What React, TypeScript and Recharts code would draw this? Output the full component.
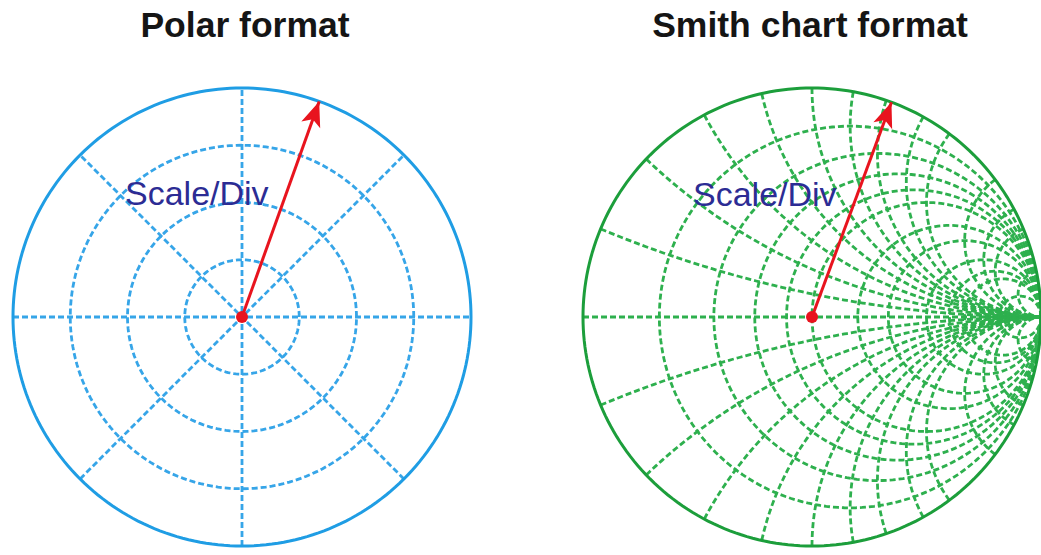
import { ComposedChart, Line, XAxis, YAxis } from 'recharts'

// grid values
const polarRings = [0.25, 0.5, 0.75]
const polarSpokes = [0, 45, 90, 135]
const smithResistances = [0.2, 0.4, 0.6, 0.8, 1, 1.5, 2, 3, 4, 5, 10]
const smithReactances = [0.2, 0.4, 0.6, 0.8, 1, 1.2, 1.4, 1.7, 2, 3, 4, 5, 10]

// the measured vector on each display (angle in degrees, magnitude)
const polarVector = { angle: 70.3, mag: 1 }
const smithVector = { angle: 69.7, mag: 1 }

const titles = ['Polar format', 'Smith chart format']
const vectorLabel = 'Scale/Div'

const RED = '#e8141e'

type Pt = { x: number; y: number }

const circle = (cx: number, cy: number, r: number, n = 180): Pt[] =>
  Array.from({ length: n + 1 }, (_, i) => {
    const t = (2 * Math.PI * i) / n
    return { x: cx + r * Math.cos(t), y: cy + r * Math.sin(t) }
  })

const diameter = (deg: number): Pt[] => {
  const a = (deg * Math.PI) / 180
  return [
    { x: -Math.cos(a), y: -Math.sin(a) },
    { x: Math.cos(a), y: Math.sin(a) },
  ]
}

// reflection coefficient for z = r + jx
const gamma = (r: number, x: number): Pt => {
  const d = (r + 1) ** 2 + x * x
  return { x: (r * r - 1 + x * x) / d, y: (2 * x) / d }
}

const reactanceArc = (x: number, n = 140): Pt[] => {
  const pts = Array.from({ length: n }, (_, k) => gamma(Math.tan((Math.PI / 2) * (k / n)), x))
  pts.push({ x: 1, y: 0 })
  return pts
}

const vectorPts = (v: { angle: number; mag: number }): Pt[] => {
  const a = (v.angle * Math.PI) / 180
  return [
    { x: 0, y: 0 },
    { x: v.mag * Math.cos(a), y: v.mag * Math.sin(a) },
  ]
}

const polarGrid: Pt[][] = [...polarRings.map((r) => circle(0, 0, r)), ...polarSpokes.map(diameter)]

const smithGrid: Pt[][] = [
  [
    { x: -1, y: 0 },
    { x: 1, y: 0 },
  ],
  ...smithResistances.map((r) => circle(r / (1 + r), 0, 1 / (1 + r), 200)),
  ...smithReactances.flatMap((x) => [reactanceArc(x), reactanceArc(-x)]),
]

const arrowDot = (angle: number) => (props: any) => {
  const { cx, cy, index } = props
  if (index === 0) return <circle key={`d${index}`} cx={cx} cy={cy} r={6} fill={RED} />
  const a = (-angle * Math.PI) / 180
  const ux = Math.cos(a)
  const uy = Math.sin(a)
  const L = 25
  const W = 10
  const bx = cx - ux * L
  const by = cy - uy * L
  const px = -uy
  const py = ux
  return (
    <polygon
      key={`d${index}`}
      points={`${cx},${cy} ${bx + px * W},${by + py * W} ${cx - ux * (L - 6)},${cy - uy * (L - 6)} ${bx - px * W},${by - py * W}`}
      fill={RED}
    />
  )
}

function Panel({
  left,
  grid,
  dash,
  edge,
  vector,
}: {
  left: number
  grid: Pt[][]
  dash: string
  edge: string
  vector: { angle: number; mag: number }
}) {
  return (
    <div style={{ position: 'absolute', left, top: 77 }}>
      <ComposedChart width={480} height={480} margin={{ top: 11, right: 11, bottom: 11, left: 11 }}>
        <XAxis type="number" dataKey="x" domain={[-1, 1]} hide />
        <YAxis type="number" domain={[-1, 1]} hide />
        {grid.map((pts, i) => (
          <Line
            key={i}
            data={pts}
            dataKey="y"
            type="linear"
            stroke={dash}
            strokeWidth={2.8}
            strokeDasharray="6 3"
            dot={false}
            activeDot={false}
            isAnimationActive={false}
          />
        ))}
        <Line
          data={circle(0, 0, 1, 240)}
          dataKey="y"
          type="linear"
          stroke={edge}
          strokeWidth={3}
          dot={false}
          activeDot={false}
          isAnimationActive={false}
        />
        <Line
          data={vectorPts(vector)}
          dataKey="y"
          type="linear"
          stroke={RED}
          strokeWidth={3}
          dot={arrowDot(vector.angle)}
          activeDot={false}
          isAnimationActive={false}
        />
      </ComposedChart>
    </div>
  )
}

export default function App() {
  return (
    <div
      style={{
        position: 'absolute',
        left: 0,
        top: 0,
        width: 1041,
        height: 555,
        overflow: 'hidden',
        background: '#fff',
      }}
    >
      <Panel left={1.5} grid={polarGrid} dash="#36a5e8" edge="#1f9de4" vector={polarVector} />
      <Panel left={572} grid={smithGrid} dash="#2eb04e" edge="#1c9e3b" vector={smithVector} />
      <svg
        width={1041}
        height={555}
        style={{ position: 'absolute', left: 0, top: 0, pointerEvents: 'none' }}
        fontFamily="'Liberation Sans', Arial, sans-serif"
      >
        <text x={245} y={37} textAnchor="middle" fontSize={35.5} fontWeight="bold" fill="#151515">
          {titles[0]}
        </text>
        <text x={810} y={37} textAnchor="middle" fontSize={35.5} fontWeight="bold" fill="#151515">
          {titles[1]}
        </text>
        <text x={125} y={205} fontSize={34} fill="#2c2c94">
          {vectorLabel}
        </text>
        <text x={693} y={206} fontSize={34} fill="#2c2c94">
          {vectorLabel}
        </text>
      </svg>
    </div>
  )
}
